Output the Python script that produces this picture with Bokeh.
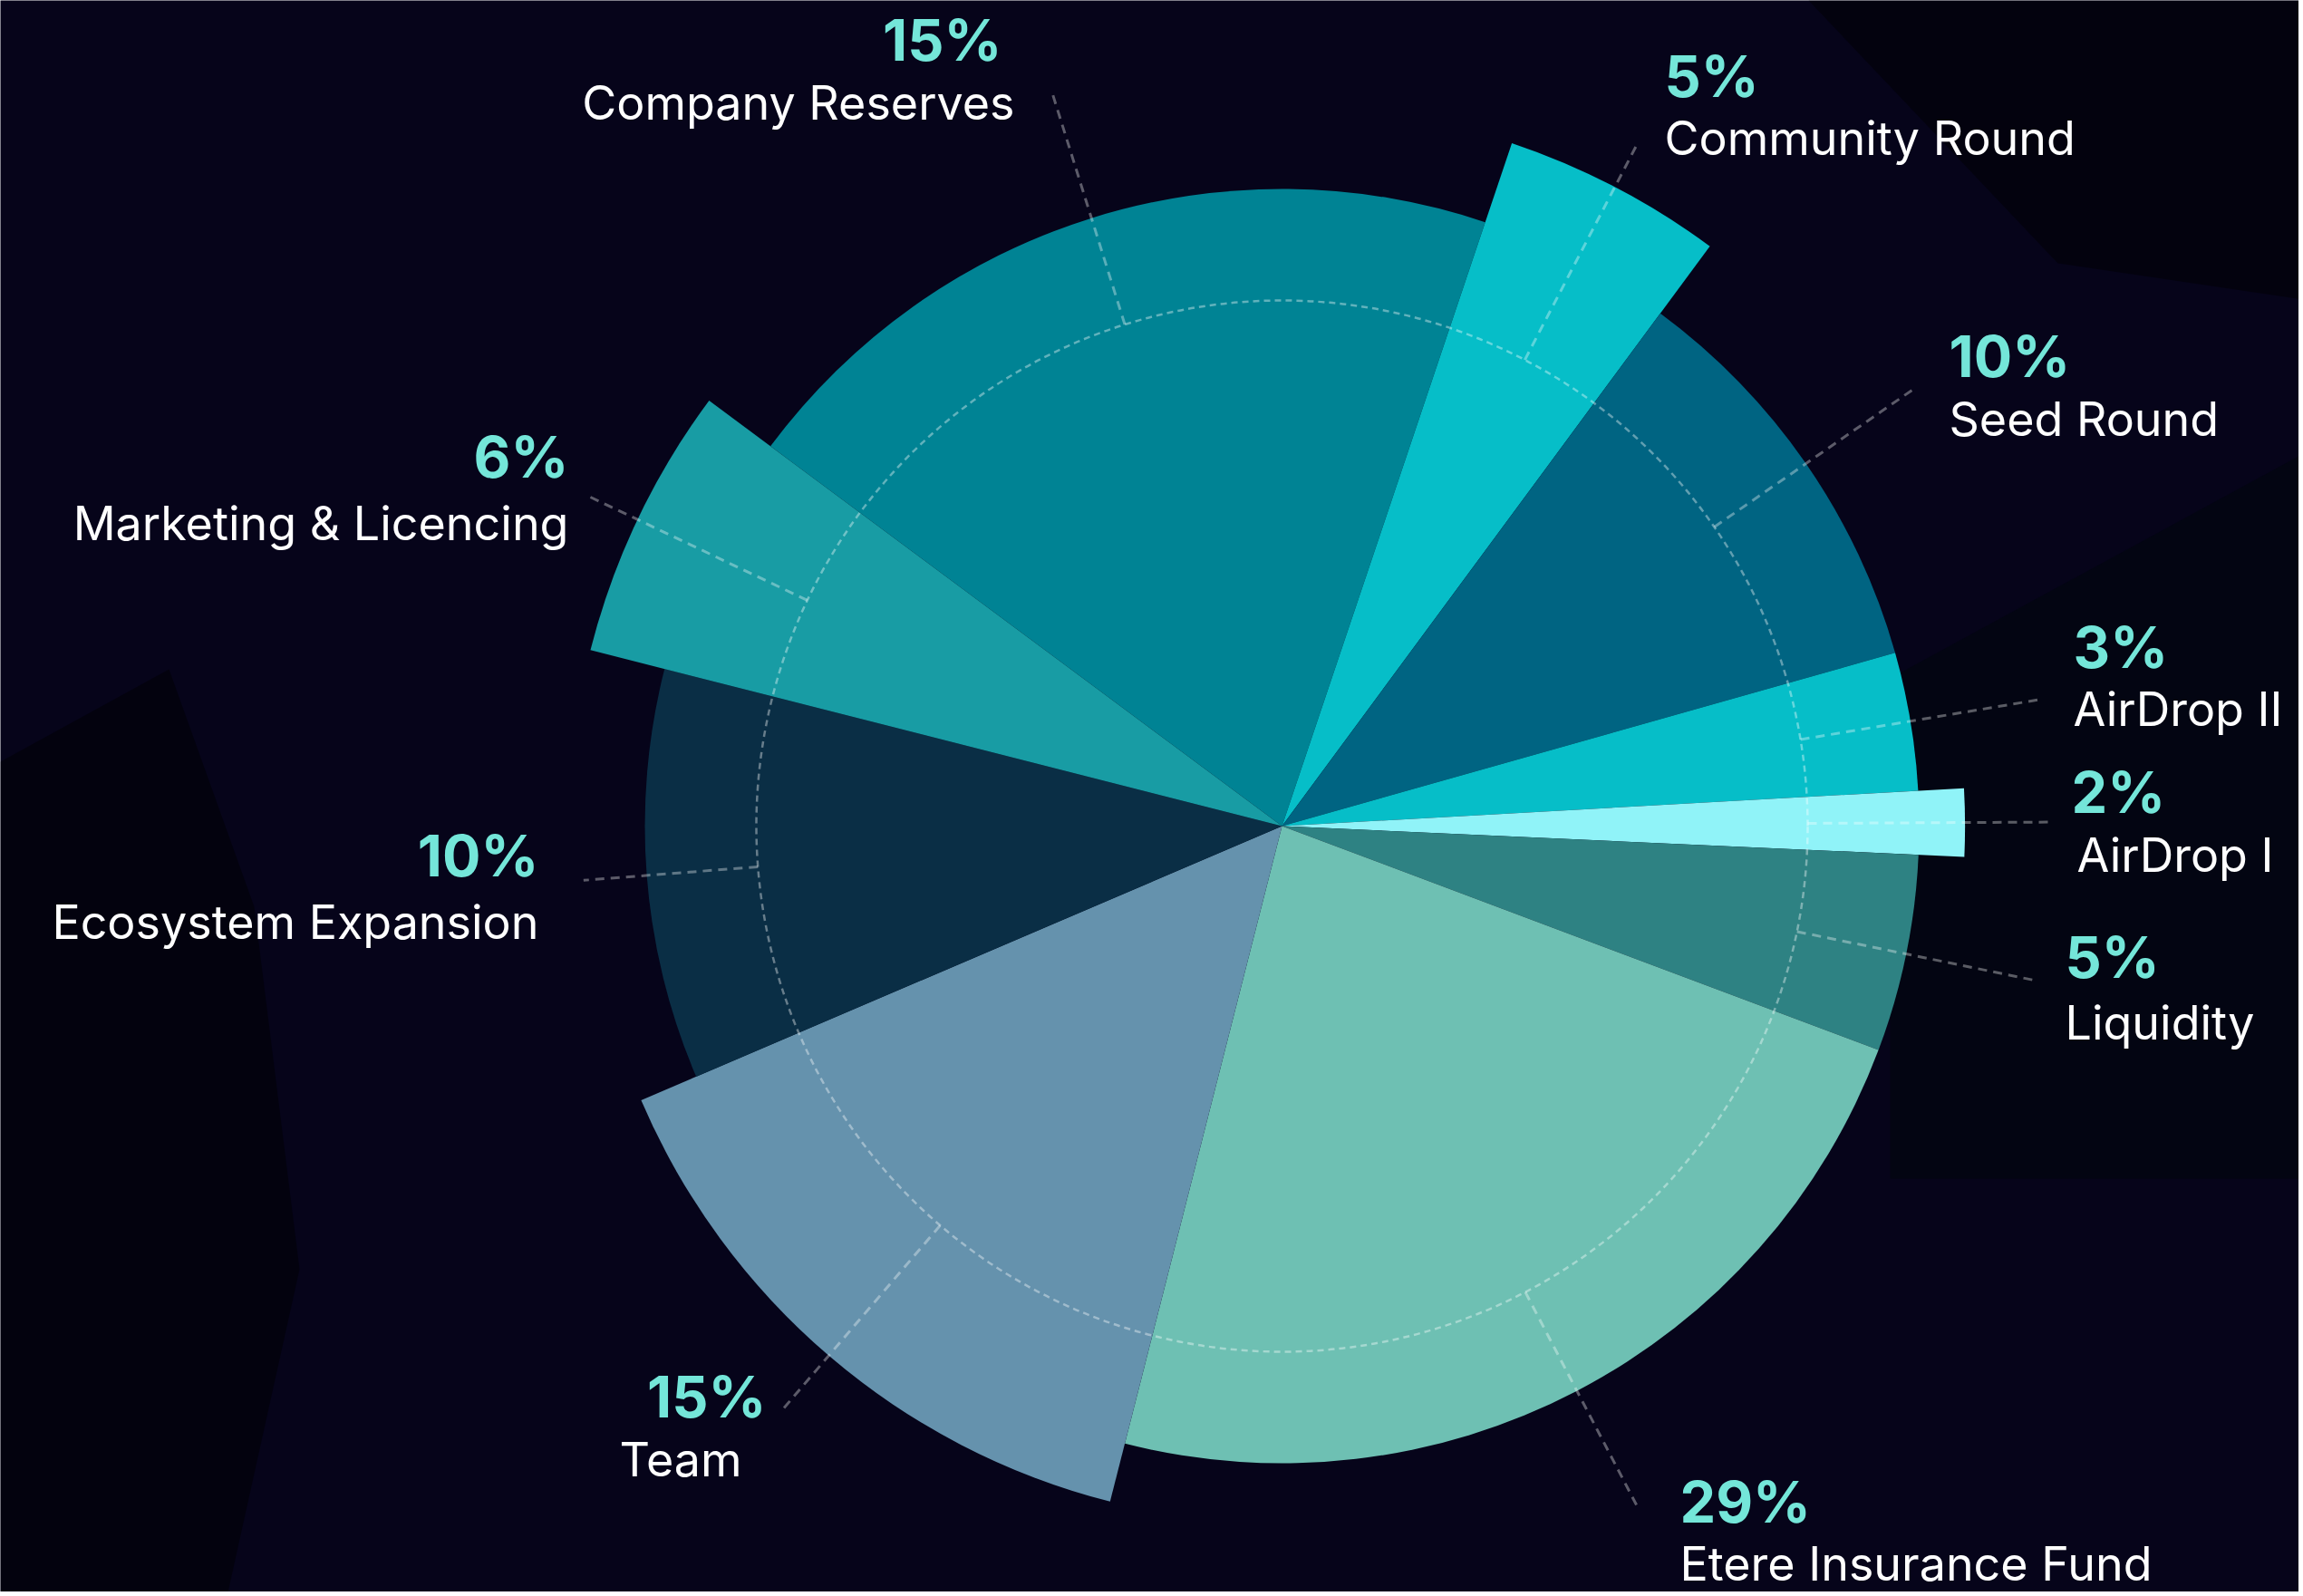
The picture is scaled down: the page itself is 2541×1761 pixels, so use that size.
import math
from bokeh.plotting import figure
from bokeh.models import Range1d, ColumnDataSource
from bokeh.embed import file_html
from bokeh.resources import INLINE
from bokeh.core.properties import value

# ---------------- data ----------------
categories = ["Company Reserves", "Community Round", "Seed Round", "AirDrop II", "AirDrop I",
              "Liquidity", "Etere Insurance Fund", "Team", "Ecosystem Expansion", "Marketing & Licencing"]
pct_labels = ["15%", "5%", "10%", "3%", "2%", "5%", "29%", "15%", "10%", "6%"]
# share of the circle drawn for each wedge (percent of 360 degrees, as measured on the picture)
arc_share = [20.0, 4.95, 10.5, 3.5, 1.6, 5.0, 23.25, 14.6, 10.4, 6.2]
# relative wedge length (1.0 = base circle)
rel_radius = [1.0, 1.131, 1.0, 1.0, 1.072, 1.0, 1.0, 1.094, 1.0, 1.12]
colors = ["#008394", "#06BEC8", "#006482", "#06BEC8", "#90F3F8",
          "#2E8283", "#6EC0B3", "#6592AD", "#0A2E45", "#189CA4"]

# ---------------- layout ----------------
W, H = 2536, 1756
PAGE_H = 1761
def sy(y):  # page y (px from top) -> data y
    return PAGE_H - y

CX, CY = 1414, sy(911)
BASE_R = 703
GRID_R = 580
LEAD_R = 845
START_DEG = 306.6   # clockwise from north
PCT_SIZE, NAME_SIZE = 63, 52
BASELINE_K = 0.385  # renderer places the alphabetic baseline this many font-sizes below y

# label anchors (page px): pct_x, pct_baseline, name_x, name_baseline, pct_align, name_align
LABELS = [
    (1105, 68, 1119, 133, "right", "right"),
    (1836, 108, 1836, 172, "left", "left"),
    (2150, 417, 2150, 482, "left", "left"),
    (2287, 738, 2287, 802, "left", "left"),
    (2285, 898, 2291, 963, "left", "left"),
    (2278, 1080, 2278, 1148, "left", "left"),
    (1853, 1681, 1853, 1745, "left", "left"),
    (845, 1565, 683, 1630, "right", "left"),
    (594, 968, 594, 1037, "right", "right"),
    (627, 528, 627, 597, "right", "right"),
]
LEAD_LEN = [LEAD_R] * 10
LEAD_LEN[8] = 773

p = figure(width=W, height=H, output_backend="svg", toolbar_location=None,
           x_range=Range1d(0, W), y_range=Range1d(sy(H), sy(0)),
           min_border=0, background_fill_color="#06041A", border_fill_color="#06041A",
           outline_line_color=None)
p.axis.visible = False
p.grid.visible = False

# subtle background shapes
p.patch([0, 186, 280, 330, 250, 0], [sy(840), sy(738), sy(1000), sy(1400), sy(1761), sy(1761)],
        fill_color="#000000", fill_alpha=0.45, line_color=None)
p.patch([1995, 2541, 2541, 2270], [sy(0), sy(0), sy(330), sy(290)],
        fill_color="#000000", fill_alpha=0.45, line_color=None)
p.patch([2085, 2541, 2541, 2085], [sy(748), sy(500), sy(1300), sy(1300)],
        fill_color="#02070C", fill_alpha=0.55, line_color=None)

# wedges
starts, ends, radii, mids = [], [], [], []
acc = START_DEG
for s, rr in zip(arc_share, rel_radius):
    t1 = acc
    t2 = acc + s * 3.6
    acc = t2
    starts.append(math.radians(90 - t2))
    ends.append(math.radians(90 - t1))
    radii.append(BASE_R * rr)
    mids.append(math.radians(90 - (t1 + t2) / 2))

src = ColumnDataSource(dict(x=[CX] * 10, y=[CY] * 10, r=radii, s=starts, e=ends, c=colors, cat=categories))
p.wedge(x="x", y="y", radius="r", start_angle="s", end_angle="e", fill_color="c",
        line_color=None, direction="anticlock", source=src)

# dashed grid circle
p.arc(x=CX, y=CY, radius=GRID_R, start_angle=0, end_angle=2 * math.pi,
      line_color="#FFFFFF", line_alpha=0.38, line_width=2.5, line_dash="7 5")

# leader lines
x0s = [CX + GRID_R * math.cos(a) for a in mids]
y0s = [CY + GRID_R * math.sin(a) for a in mids]
x1s = [CX + L * math.cos(a) for a, L in zip(mids, LEAD_LEN)]
y1s = [CY + L * math.sin(a) for a, L in zip(mids, LEAD_LEN)]
p.segment(x0=x0s, y0=y0s, x1=x1s, y1=y1s, line_color="#FFFFFF", line_alpha=0.35,
          line_width=3, line_dash="10 7")

# labels
for (px, py, nx, ny, pa, na), pct, name in zip(LABELS, pct_labels, categories):
    p.text(x=[px], y=[sy(py - BASELINE_K * PCT_SIZE)], text=[pct], text_color="#74E6D9",
           text_font=value("Inter"), text_font_size=f"{PCT_SIZE}px", text_font_style="bold",
           text_align=pa, text_baseline="alphabetic")
    p.text(x=[nx], y=[sy(ny - BASELINE_K * NAME_SIZE)], text=[name], text_color="#FFFFFF",
           text_font=value("Inter"), text_font_size=f"{NAME_SIZE}px",
           text_align=na, text_baseline="alphabetic")

html = file_html(p, INLINE)
html = html.replace("<body>", '<body style="margin:0;background:#06041A;">', 1)
open("out.html", "w").write(html)
